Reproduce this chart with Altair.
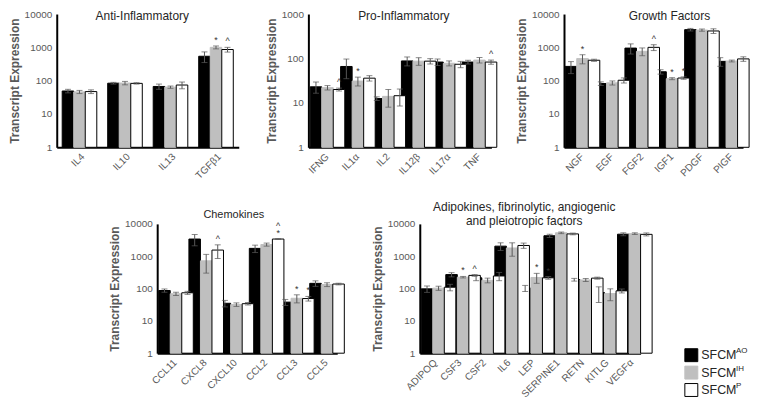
import altair as alt
import pandas as pd

FONT = "Liberation Sans"
SERIES = ["AO", "IH", "P"]
FILL = ["#000000", "#bfbfbf", "#ffffff"]
STROKE = ["#000000", "#bfbfbf", "#000000"]
ECOL = "#595959"

# ---------------- data ----------------
ANTI_GENES = ["IL4", "IL10", "IL13", "TGFβ1"]
ANTI_AO = [49, 84, 67, 540]
ANTI_AO_ERR = [6, 5, 12, 190]
ANTI_IH = [46, 85, 64, 1000]
ANTI_IH_ERR = [5, 10, 5, 100]
ANTI_P = [47, 83, 74, 860]
ANTI_P_ERR = [6, 4, 17, 140]
ANTI_SIG_IH = ["", "", "", "*"]
ANTI_SIG_P = ["", "", "", "^"]

PRO_GENES = ["IFNG", "IL1α", "IL2", "IL12β", "IL17α", "TNF"]
PRO_AO = [23, 66, 12.5, 88, 83, 83]
PRO_AO_ERR = [6.5, 31, 1.2, 20, 14, 8]
PRO_IH = [22, 31, 14, 87, 78, 92]
PRO_IH_ERR = [2.5, 7, 6, 17, 10, 13]
PRO_P = [20, 36, 14.5, 87, 74, 83]
PRO_P_ERR = [1.5, 5, 6, 12, 12, 9]
PRO_SIG_IH = ["", "*", "", "", "", ""]
PRO_SIG_P = ["^", "", "", "", "", "^"]

GF_GENES = ["NGF", "EGF", "FGF2", "IGF1", "PDGF", "PIGF"]
GF_AO = [268, 82, 950, 185, 3400, 380]
GF_AO_ERR = [105, 10, 320, 28, 300, 110]
GF_IH = [460, 86, 760, 115, 3300, 390]
GF_IH_ERR = [140, 12, 200, 8, 250, 25]
GF_P = [410, 103, 1000, 120, 3100, 450]
GF_P_ERR = [30, 18, 200, 10, 500, 70]
GF_SIG_IH = ["*", "", "", "*", "", ""]
GF_SIG_P = ["", "", "^", "*", "", ""]

CHEM_GENES = ["CCL11", "CXCL8", "CXCL10", "CCL2", "CCL3", "CCL5"]
CHEM_AO = [87, 3400, 35, 1750, 38, 145]
CHEM_AO_ERR = [10, 1300, 8, 450, 8, 28]
CHEM_IH = [69, 720, 32, 2300, 50, 133]
CHEM_IH_ERR = [8, 420, 4, 250, 14, 18]
CHEM_P = [74, 1550, 34, 3400, 49, 138]
CHEM_P_ERR = [8, 700, 3, 100, 8, 8]
CHEM_SIG_IH = ["", "", "", "", "*", ""]
CHEM_SIG_P = ["", "^", "", "*", "*", ""]
CHEM_SIG_P2 = ["", "", "", "^", "", ""]

ADIPO_GENES = ["ADIPOQ", "CSF3", "CSF2", "IL6", "LEP", "SERPINE1", "RETN", "KITLG", "VEGFα"]
ADIPO_AO = [98, 270, 215, 2050, 103, 4300, 188, 75, 4800]
ADIPO_AO_ERR = [22, 40, 40, 550, 22, 500, 18, 38, 500]
ADIPO_IH = [103, 225, 180, 1800, 220, 5300, 185, 70, 5000]
ADIPO_IH_ERR = [15, 12, 30, 800, 75, 300, 20, 28, 300]
ADIPO_P = [110, 255, 245, 2150, 215, 4900, 210, 85, 4750]
ADIPO_P_ERR = [25, 15, 70, 400, 20, 300, 15, 12, 500]
ADIPO_SIG_IH = ["", "*", "", "", "*", "*", "", "", ""]
ADIPO_SIG_P = ["", "^", "", "", "*", "", "", "", ""]

LEGEND_NAME = "SFCM"
LEGEND_SUP = ["AO", "IH", "P"]


def long_df(genes, vals, errs, sigs, sigs2):
    rows = []
    for si, s in enumerate(SERIES):
        for gi, g in enumerate(genes):
            v = vals[si][gi]
            e = errs[si][gi]
            rows.append(dict(gene=g, series=s, value=v, base=1, lo=v - e, hi=v + e,
                             sig=sigs[si][gi], sig2=sigs2[si][gi]))
    return pd.DataFrame(rows)


def panel(genes, vals, errs, sigs, sigs2, ymax, width, height, pad, outer,
          title_lines, tx, tys, tsize=12):
    df = long_df(genes, vals, errs, sigs, sigs2)
    yvals = [v for v in [1, 10, 100, 1000, 10000] if v <= ymax]
    yscale = alt.Scale(type="log", domain=[1, ymax])
    yaxis = alt.Axis(values=yvals, format="d", title="Transcript Expression",
                     titleFont=FONT, titleFontSize=12, titleFontWeight="bold",
                     titleColor="#595959", labelFont=FONT, labelFontSize=10,
                     labelColor="#595959", labelPadding=5, ticks=False, grid=False,
                     domainColor="#000000", domainWidth=2, titlePadding=3)
    xaxis = alt.Axis(title=None, labelAngle=-45, labelFont=FONT, labelFontSize=10,
                     labelColor="#595959", ticks=False, domainColor="#000000",
                     domainWidth=2, labelPadding=4)
    x = alt.X("gene:N", sort=genes, scale=alt.Scale(paddingInner=pad, paddingOuter=outer),
              axis=xaxis)
    xo = alt.XOffset("series:N", sort=SERIES,
                     scale=alt.Scale(domain=SERIES, paddingInner=0, paddingOuter=0))
    base = alt.Chart(df)
    bars = base.mark_bar(strokeWidth=1).encode(
        x=x, xOffset=xo,
        y=alt.Y("value:Q", scale=yscale, axis=yaxis), y2="base:Q",
        fill=alt.Fill("series:N", scale=alt.Scale(domain=SERIES, range=FILL), legend=None),
        stroke=alt.Stroke("series:N", scale=alt.Scale(domain=SERIES, range=STROKE), legend=None),
    )
    rules = base.mark_rule(color=ECOL, strokeWidth=1).encode(
        x=x, xOffset=xo, y=alt.Y("lo:Q", scale=yscale, axis=yaxis), y2="hi:Q")
    cap_lo = base.mark_tick(color=ECOL, thickness=1, size=6).encode(
        x=x, xOffset=xo, y=alt.Y("lo:Q", scale=yscale, axis=yaxis))
    cap_hi = base.mark_tick(color=ECOL, thickness=1, size=6).encode(
        x=x, xOffset=xo, y=alt.Y("hi:Q", scale=yscale, axis=yaxis))
    s1 = base.mark_text(font=FONT, fontSize=9, color="#333333", dy=-6).encode(
        x=x, xOffset=xo, y=alt.Y("hi:Q", scale=yscale, axis=yaxis), text="sig:N")
    s2 = base.mark_text(font=FONT, fontSize=9, color="#333333", dy=-13).encode(
        x=x, xOffset=xo, y=alt.Y("hi:Q", scale=yscale, axis=yaxis), text="sig2:N")
    layers = [bars, rules, cap_lo, cap_hi, s1, s2]
    for line, ty in zip(title_lines, tys):
        layers.append(
            alt.Chart(pd.DataFrame({"t": [line]})).mark_text(
                font=FONT, fontSize=tsize, color="#262626", baseline="middle", align="center"
            ).encode(x=alt.value(tx), y=alt.value(ty), text="t:N")
        )
    return alt.layer(*layers).properties(width=width, height=height)


def spacer(w, h):
    return alt.Chart(pd.DataFrame({"a": [0]})).mark_rule(strokeOpacity=0).encode(
        x=alt.value(0), x2=alt.value(w), y=alt.value(0)).properties(width=w, height=h)


TOP_H = 134
BOT_H = 130

p1 = panel(ANTI_GENES, [ANTI_AO, ANTI_IH, ANTI_P], [ANTI_AO_ERR, ANTI_IH_ERR, ANTI_P_ERR],
           [[""] * 4, ANTI_SIG_IH, ANTI_SIG_P], [[""] * 4] * 3,
           10000, 183, TOP_H, 0.24, 0.12, ["Anti-Inflammatory"], 86, [2])
p2 = panel(PRO_GENES, [PRO_AO, PRO_IH, PRO_P], [PRO_AO_ERR, PRO_IH_ERR, PRO_P_ERR],
           [[""] * 6, PRO_SIG_IH, PRO_SIG_P], [[""] * 6] * 3,
           1000, 184, TOP_H, 0.1, 0.06, ["Pro-Inflammatory"], 96, [2])
p3 = panel(GF_GENES, [GF_AO, GF_IH, GF_P], [GF_AO_ERR, GF_IH_ERR, GF_P_ERR],
           [[""] * 6, GF_SIG_IH, GF_SIG_P], [[""] * 6] * 3,
           10000, 180, TOP_H, 0.085, 0.04, ["Growth Factors"], 106, [2])
p4 = panel(CHEM_GENES, [CHEM_AO, CHEM_IH, CHEM_P], [CHEM_AO_ERR, CHEM_IH_ERR, CHEM_P_ERR],
           [[""] * 6, CHEM_SIG_IH, CHEM_SIG_P], [[""] * 6, [""] * 6, CHEM_SIG_P2],
           10000, 181, BOT_H, 0.14, 0.05, ["Chemokines"], 77, [-9], tsize=11)
p5 = panel(ADIPO_GENES, [ADIPO_AO, ADIPO_IH, ADIPO_P], [ADIPO_AO_ERR, ADIPO_IH_ERR, ADIPO_P_ERR],
           [[""] * 9, ADIPO_SIG_IH, ADIPO_SIG_P], [[""] * 9] * 3,
           10000, 222, BOT_H, 0.12, 0.06,
           ["Adipokines, fibrinolytic, angiogenic", "and pleiotropic factors"], 105, [-17, -3])

# legend
LX = 44
leg_df = pd.DataFrame({"series": SERIES, "sup": LEGEND_SUP, "name": [LEGEND_NAME] * 3})
ypos = alt.Y("series:N", sort=SERIES, axis=None,
             scale=alt.Scale(type="point", range=[132, 167], padding=0))
sq = alt.Chart(leg_df).mark_square(size=169, strokeWidth=1, opacity=1).encode(
    x=alt.value(LX + 7), y=ypos,
    fill=alt.Fill("series:N", scale=alt.Scale(domain=SERIES, range=FILL), legend=None),
    stroke=alt.Stroke("series:N", scale=alt.Scale(domain=SERIES, range=STROKE), legend=None),
)
names = alt.Chart(leg_df).mark_text(font=FONT, fontSize=12.5, align="left", baseline="middle",
                                    color="#262626").encode(
    x=alt.value(LX + 17), y=ypos, text="name:N")
sups = alt.Chart(leg_df).mark_text(font=FONT, fontSize=8, align="left", baseline="middle",
                                   color="#262626", dy=-4).encode(
    x=alt.value(LX + 52), y=ypos, text="sup:N")
legend = alt.layer(sq, names, sups).properties(width=60, height=BOT_H)

row1 = alt.hconcat(p1, spacer(70, TOP_H), p2, spacer(73, TOP_H), p3,
                   spacing=0, bounds="flush")
row2 = alt.hconcat(spacer(101, BOT_H), p4, spacer(83, BOT_H), p5, legend,
                   spacing=0, bounds="flush")

chart = alt.vconcat(row1, row2, spacing=20).properties(
    padding={"left": 0, "top": 0, "right": 0, "bottom": 0}
).configure_view(strokeOpacity=0)

chart.save("out.html", embed_options={"renderer": "svg", "actions": False})
